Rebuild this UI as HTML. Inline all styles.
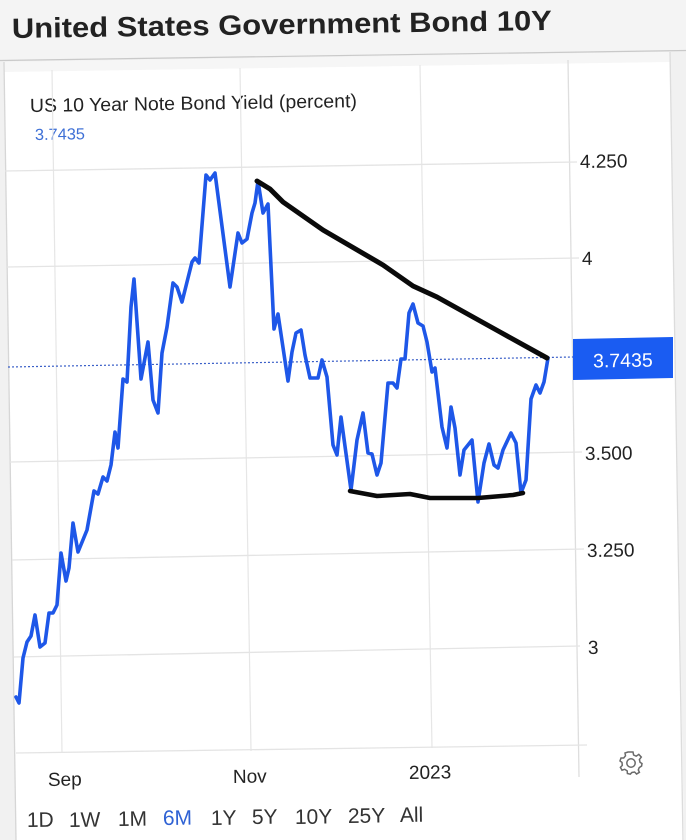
<!DOCTYPE html>
<html>
<head>
<meta charset="utf-8">
<style>
  html,body{margin:0;padding:0;background:#ffffff;}
  svg{display:block;}
  text{font-family:"Liberation Sans", Arial, sans-serif;}
</style>
</head>
<body>
<svg width="686" height="840" viewBox="0 0 686 840" xmlns="http://www.w3.org/2000/svg">
  <rect x="0" y="0" width="686" height="840" fill="#f1f1f1"/>
  <polygon points="4,62 670,52 684,840 16,840" fill="#ffffff"/>
  <polygon points="4,62 670,52 670,62 4,72" fill="#f6f6f6"/>
  <polygon points="0,0 686,0 686,50 0,60" fill="#f4f4f4"/>
  <line x1="0" y1="60.5" x2="686" y2="50.5" stroke="#c9c9c9" stroke-width="1.2"/>
  <line x1="4" y1="62" x2="16" y2="840" stroke="#d6d6d6" stroke-width="1.3"/>
  <line x1="670" y1="52" x2="683" y2="840" stroke="#dcdcdc" stroke-width="1.3"/>

  <text x="12" y="38" font-size="28" font-weight="bold" fill="#222" textLength="540" lengthAdjust="spacingAndGlyphs" transform="rotate(-0.85 12 38)">United States Government Bond 10Y</text>

  <text x="30" y="112" font-size="19" fill="#222" textLength="327" lengthAdjust="spacingAndGlyphs" transform="rotate(-0.85 30 112)">US 10 Year Note Bond Yield (percent)</text>
  <text x="35" y="140" font-size="16" fill="#3d6fd6" textLength="50" lengthAdjust="spacingAndGlyphs" transform="rotate(-0.85 35 140)">3.7435</text>

  <g stroke="#e6e6e6" stroke-width="1.2">
    <line x1="52" y1="70" x2="62" y2="753"/>
    <line x1="240" y1="68" x2="251" y2="751"/>
    <line x1="420" y1="65" x2="432" y2="748"/>
  </g>
  <line x1="568" y1="60" x2="579" y2="777" stroke="#dedede" stroke-width="1.3"/>

  <g stroke="#e4e4e4" stroke-width="1.3">
    <line x1="5" y1="171" x2="577" y2="162"/>
    <line x1="7" y1="267" x2="579" y2="258"/>
    <line x1="10" y1="462" x2="582" y2="452"/>
    <line x1="12" y1="560" x2="584" y2="549"/>
    <line x1="14" y1="657" x2="580" y2="646"/>
    <line x1="16" y1="753" x2="587" y2="745"/>
  </g>

  <g font-size="19" fill="#222">
    <text x="580" y="168" transform="rotate(-0.85 580 168)">4.250</text>
    <text x="582" y="265" transform="rotate(-0.85 582 265)">4</text>
    <text x="585" y="460" transform="rotate(-0.85 585 460)">3.500</text>
    <text x="587" y="557" transform="rotate(-0.85 587 557)">3.250</text>
    <text x="588" y="654" transform="rotate(-0.85 588 654)">3</text>
  </g>

  <line x1="8" y1="367" x2="573" y2="357" stroke="#3a5fc8" stroke-width="1.2" stroke-dasharray="2,2"/>

  <polygon points="573,339 673,337 673,378 573,380" fill="#1a5cf2"/>
  <text x="623" y="367" font-size="19.5" fill="#ffffff" text-anchor="middle" transform="rotate(-0.85 623 367)">3.7435</text>

  <polyline fill="none" stroke="#1e57e8" stroke-width="3.6" stroke-linejoin="round" stroke-linecap="round"
    points="16,697 19,703 23,658 27,642 31,636 35,615 40,647 45,643 49,613 53,613 57,605 61,553 66,581 69,568 73,523 78,552 87,530 94,491 98,494 103,477 107,481 111,465 115,432 118,448 123,379 127,382 131,307 134,279 141,379 148,342 153,400 158,413 162,353 167,327 173,283 177,287 182,302 192,262 195,258 199,263 206,175 210,180 215,173 230,287 238,233 242,243 247,239 252,213 255,203 258,181 263,213 268,204 274,329 278,314 288,381 292,352 296,333 301,330 305,355 310,378 318,378 322,360 327,377 333,445 337,455 341,417 351,490 357,440 363,413 368,453 372,454 377,475 381,463 388,383 393,383 397,388 401,359 405,359 409,313 413,304 418,323 423,326 427,342 432,372 435,368 442,427 447,448 451,407 455,428 460,475 464,450 472,440 478,502 484,463 489,444 494,465 498,468 503,450 511,433 516,443 521,493 526,480 531,399 536,385 540,393 544,382 548,358"/>

  <polyline fill="none" stroke="#0a0a0a" stroke-width="5" stroke-linejoin="round" stroke-linecap="round"
    points="257,181 270,189 283,202 323,230 383,265 413,286 437,297 500,332 547,358"/>
  <polyline fill="none" stroke="#0a0a0a" stroke-width="4.5" stroke-linejoin="round" stroke-linecap="round"
    points="350,491 377,496 410,494 430,498 478,498 513,495 523,493"/>

  <g font-size="19" fill="#222">
    <text x="48" y="786" transform="rotate(-0.85 48 786)">Sep</text>
    <text x="233" y="783" transform="rotate(-0.85 233 783)">Nov</text>
    <text x="409" y="779" transform="rotate(-0.85 409 779)">2023</text>
  </g>

  <g transform="translate(631,763)" fill="none" stroke="#6a6a6a" stroke-width="1.5">
    <path d="M -2,-11 L 2,-11 L 2.6,-8 L 5.2,-6.8 L 7.8,-8.6 L 10.3,-5.9 L 8.4,-3.4 L 9.1,-0.6 L 11,0.5 L 10.6,3 L 8.2,4.6 L 7.3,7 L 8.4,9.3 L 5.6,11 L 3.6,9 L 0.9,9.5 L -0.7,11.2 L -3.6,10.5 L -3.8,7.9 L -6.3,6.3 L -9,7.2 L -10.6,4.4 L -8.7,2.4 L -9,-0.6 L -11,-2 L -10,-5 L -7.3,-5 L -5.5,-7.2 L -6,-10 L -3,-11 Z"/>
    <circle cx="0" cy="0" r="4.2"/>
  </g>

  <g font-size="21" fill="#333">
    <text x="27" y="827" transform="rotate(-0.85 27 827)">1D</text>
    <text x="69" y="827" transform="rotate(-0.85 69 827)">1W</text>
    <text x="118" y="826" transform="rotate(-0.85 118 826)">1M</text>
    <text x="163" y="825" fill="#2f62d4" transform="rotate(-0.85 163 825)">6M</text>
    <text x="211" y="825" transform="rotate(-0.85 211 825)">1Y</text>
    <text x="252" y="824" transform="rotate(-0.85 252 824)">5Y</text>
    <text x="295" y="824" transform="rotate(-0.85 295 824)">10Y</text>
    <text x="348" y="823" transform="rotate(-0.85 348 823)">25Y</text>
    <text x="400" y="822" transform="rotate(-0.85 400 822)">All</text>
  </g>
</svg>
</body>
</html>
